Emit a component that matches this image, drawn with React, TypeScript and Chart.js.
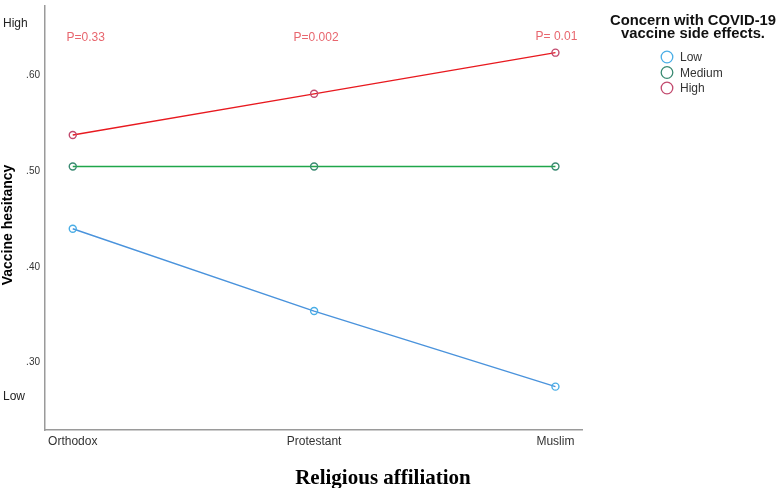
import React, { useEffect, useRef } from "react";
import { Chart, registerables } from "chart.js";

Chart.register(...registerables);

const categories = ["Orthodox", "Protestant", "Muslim"];
const seriesNames = ["Low", "Medium", "High"];
const lowValues = [0.44, 0.354, 0.275];
const mediumValues = [0.505, 0.505, 0.505];
const highValues = [0.538, 0.581, 0.624];
const pLabels = ["P=0.33", "P=0.002", "P= 0.01"];
const pLabelValues = [0.6393, 0.6393, 0.641];
const yTicks = [0.3, 0.4, 0.5, 0.6];
const anchorLabels = [
  { text: "High", value: 0.6538 },
  { text: "Low", value: 0.264 },
];
const legendTitle = ["Concern with COVID-19", "vaccine side effects."];
const xTitle = "Religious affiliation";
const yTitle = "Vaccine hesitancy";
const lineColors = ["#4a93dc", "#1fa64a", "#e8191f"];
const markerColors = ["#4aaee6", "#3a8a72", "#c24a6e"];

const SANS = "'Liberation Sans', Arial, sans-serif";

export default function App() {
  const ref = useRef<HTMLCanvasElement | null>(null);

  useEffect(() => {
    if (!ref.current) return;
    const allSeries = [lowValues, mediumValues, highValues];
    const datasets = allSeries.map((vals, si) => ({
      label: seriesNames[si],
      data: vals.map((v, i) => ({ x: i, y: v })),
      borderColor: lineColors[si],
      borderWidth: 1.4,
      pointRadius: 3.5,
      pointBorderWidth: 1.4,
      pointBorderColor: markerColors[si],
      pointBackgroundColor: "rgba(255,255,255,0)",
      tension: 0,
      fill: false,
    }));

    const overlay = {
      id: "overlay",
      afterDraw(chart: any) {
        const ctx = chart.ctx;
        const xs = chart.scales.x;
        const ys = chart.scales.y;
        ctx.save();
        // P labels
        ctx.fillStyle = "#e8666e";
        ctx.font = `12px ${SANS}`;
        ctx.textAlign = "center";
        ctx.textBaseline = "middle";
        pLabels.forEach((t, i) => {
          const offs = i === 0 ? 13 : i === 1 ? 2 : 1;
          ctx.fillText(t, xs.getPixelForValue(i) + offs, ys.getPixelForValue(pLabelValues[i]));
        });
        // High / Low anchors
        ctx.fillStyle = "#222";
        ctx.font = `12px ${SANS}`;
        ctx.textAlign = "left";
        anchorLabels.forEach((a) => {
          ctx.fillText(a.text, 3, ys.getPixelForValue(a.value));
        });
        // Y title
        ctx.save();
        ctx.translate(8, 225);
        ctx.rotate(-Math.PI / 2);
        ctx.font = `bold 14px ${SANS}`;
        ctx.textAlign = "center";
        ctx.fillStyle = "#000";
        ctx.fillText(yTitle, 0, 0);
        ctx.restore();
        // X title
        ctx.font = `bold 21px 'Liberation Serif', 'Times New Roman', serif`;
        ctx.textAlign = "center";
        ctx.textBaseline = "alphabetic";
        ctx.fillStyle = "#000";
        ctx.fillText(xTitle, 383, 484);
        // Legend
        ctx.textBaseline = "middle";
        ctx.font = `bold 14.8px ${SANS}`;
        ctx.fillStyle = "#111";
        ctx.fillText(legendTitle[0], 693, 20.5);
        ctx.fillText(legendTitle[1], 693, 34);
        ctx.font = `12px ${SANS}`;
        ctx.textAlign = "left";
        chart.data.datasets.forEach((ds: any, i: number) => {
          const y = 57 + i * 15.5;
          ctx.beginPath();
          ctx.arc(667, y, 5.8, 0, Math.PI * 2);
          ctx.strokeStyle = markerColors[i];
          ctx.lineWidth = 1.3;
          ctx.stroke();
          ctx.fillStyle = "#333";
          ctx.fillText(ds.label, 680, y + 1);
        });
        ctx.restore();
      },
    };

    const chart = new Chart(ref.current, {
      type: "line",
      data: { datasets },
      plugins: [overlay],
      options: {
        animation: false,
        responsive: false,
        maintainAspectRatio: false,
        layout: { padding: { left: 0, right: 198, top: 2, bottom: 0 } },
        plugins: {
          legend: { display: false },
          tooltip: { enabled: false },
        },
        scales: {
          x: {
            type: "linear",
            min: -0.115,
            max: 2.11,
            grid: { display: false, drawTicks: false },
            border: { display: true, color: "#9a9a9a", width: 1.5 },
            afterBuildTicks: (s: any) => {
              s.ticks = categories.map((_, i) => ({ value: i }));
            },
            afterFit: (s: any) => {
              s.height = 58;
            },
            ticks: {
              padding: 4,
              color: "#333",
              font: { family: SANS, size: 12 },
              maxRotation: 0,
              autoSkip: false,
              callback: (v: any) => categories[v] ?? "",
            },
          },
          y: {
            type: "linear",
            min: 0.2297,
            max: 0.6734,
            grid: { display: false, drawTicks: false },
            border: { display: true, color: "#9a9a9a", width: 1.5 },
            afterBuildTicks: (s: any) => {
              s.ticks = yTicks.map((v) => ({ value: v }));
            },
            afterFit: (s: any) => {
              s.width = 45;
              s.paddingTop = 0;
              s.paddingBottom = 0;
            },
            ticks: {
              padding: 5,
              color: "#333",
              font: { family: SANS, size: 10 },
              callback: (v: any) => Number(v).toFixed(2).replace(/^0/, ""),
            },
          },
        },
      },
    });
    return () => chart.destroy();
  }, []);

  return (
    <div style={{ position: "fixed", left: 0, top: 0, width: 780, height: 488, background: "#fff" }}>
      <canvas ref={ref} width={780} height={488} style={{ width: 780, height: 488 }} />
    </div>
  );
}
